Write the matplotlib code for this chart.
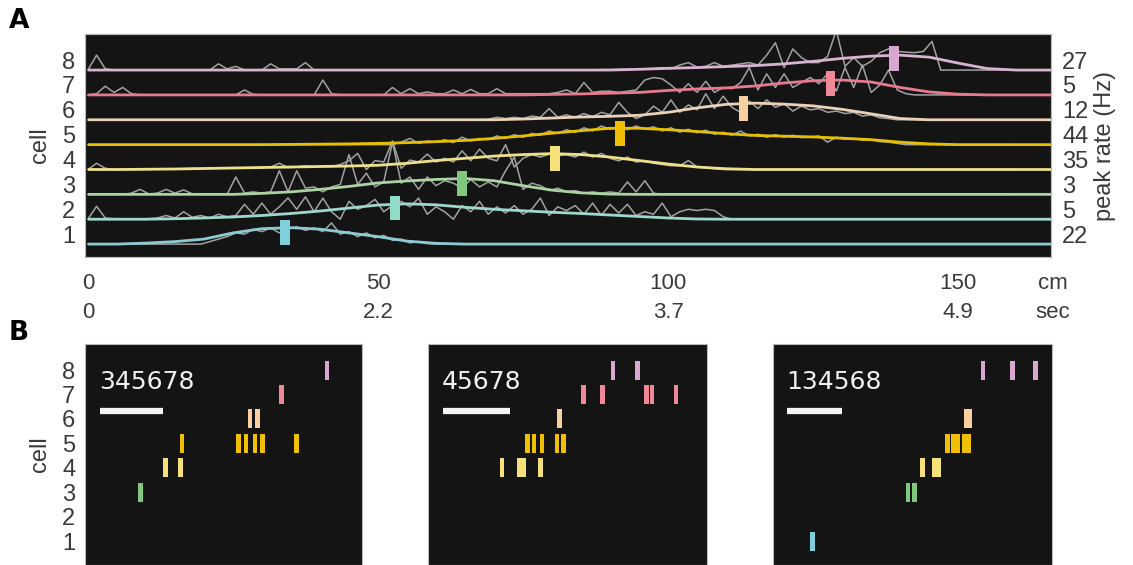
import numpy as np
import matplotlib
matplotlib.use("Agg")
import matplotlib.pyplot as plt
from matplotlib.transforms import blended_transform_factory

# ---------------- data: panel A ----------------
cells = [1, 2, 3, 4, 5, 6, 7, 8]
peak_rate = [22, 5, 3, 35, 44, 12, 5, 27]
cell_colors = ['#8ccbd3', '#9ed8cc', '#a9d3a0', '#eee08a',
               '#e6c000', '#ead2b8', '#e8798f', '#d9b3cf']
peak_colors = ['#7fd0dc', '#8fdcc8', '#80c880', '#f5e07a',
               '#f0c000', '#f8d0a0', '#f08898', '#d8a8d0']

# smoothed firing fields (fraction of row height), sampled every 5 cm
smooth_step = 5.0
smooth_1 = [0, 0, 0.04, 0.1, 0.2, 0.45, 0.62, 0.66, 0.6, 0.45, 0.3, 0.12, 0.03]
smooth_2 = [0, 0, 0, 0.02, 0.05, 0.09, 0.15, 0.23, 0.33, 0.45, 0.57, 0.62, 0.58,
            0.48, 0.4, 0.34, 0.28, 0.23, 0.17, 0.11, 0.05, 0.01]
smooth_3 = [0] * 6 + [0.04, 0.1, 0.2, 0.32, 0.46, 0.54, 0.6, 0.64, 0.55, 0.35,
                      0.17, 0.06, 0.01]
smooth_4 = [0, 0, 0.01, 0.02, 0.04, 0.06, 0.08, 0.1, 0.12, 0.14, 0.17, 0.25, 0.36,
            0.45, 0.54, 0.6, 0.64, 0.6, 0.5, 0.36, 0.22, 0.1, 0.03]
smooth_5 = [0] * 7 + [0.01, 0.02, 0.03, 0.05, 0.08, 0.12, 0.17, 0.25, 0.35, 0.46,
                      0.56, 0.66, 0.66, 0.6, 0.53, 0.44, 0.37, 0.34, 0.31, 0.26,
                      0.2, 0.1, 0.03]
smooth_6 = [0] * 15 + [0.03, 0.07, 0.11, 0.14, 0.18, 0.3, 0.48, 0.62, 0.67, 0.63,
                       0.56, 0.42, 0.24, 0.05]
smooth_7 = [0] * 16 + [0.02, 0.04, 0.07, 0.1, 0.18, 0.24, 0.28, 0.36, 0.48, 0.57,
                       0.6, 0.52, 0.3, 0.12, 0.03]
smooth_8 = [0] * 19 + [0.03, 0.07, 0.1, 0.14, 0.18, 0.25, 0.35, 0.47, 0.56, 0.6,
                       0.52, 0.28, 0.06]

# raw rate traces (gray), sampled every 1.5 cm
gray_step = 1.5
gray_1 = [0] * 14 + [0.1, 0.2, 0.3, 0.45, 0.4, 0.6, 0.5, 0.65, 0.45, 0.6,
                     0.7, 0.55, 0.65, 0.5, 0.85, 0.4, 0.5, 0.3, 0.45, 0.25,
                     0.35, 0.15, 0.2, 0.05, 0.1, 0.02]
gray_2 = [0, 0.52, 0.05, 0.02, 0.02, 0.02, 0.02, 0.02, 0.05, 0.15,
          0.05, 0.3, 0.08, 0.15, 0.05, 0.2, 0.1, 0.15, 0.6, 0.2,
          0.65, 0.2, 0.5, 0.86, 0.4, 0.9, 0.3, 0.85, 0.3, 0.0,
          0.72, 0.4, 0.55, 0.8, 0.3, 0.55, 0.72, 0.5, 0.85, 0.2,
          0.5, 0.3, 0.0, 0.55, 0.3, 0.72, 0.2, 0.5, 0.25, 0.55,
          0.2, 0.4, 0.85, 0.15, 0.5, 0.35, 0.55, 0.2, 0.65, 0.15,
          0.6, 0.25, 0.6, 0.15, 0.3, 0.2, 0.65, 0.1, 0.3, 0.4,
          0.35, 0.4, 0.35, 0.1, 0.0]
gray_3 = [0, 0, 0, 0, 0, 0.05, 0.2, 0.02, 0.05, 0.2,
          0.05, 0.18, 0.02, 0, 0, 0, 0, 0.7, 0.05, 0.1,
          0.05, 0.1, 0.95, 0.1, 0.95, 0.25, 0.3, 0.1, 0.3, 0.4,
          1.6, 0.4, 0.85, 0.3, 0.5, 2.1, 0.45, 0.7, 0.2, 0.7,
          0.35, 0.55, 0.45, 0.25, 0.6, 0.3, 0.5, 0.3, 0.95, 1.5,
          0.2, 0.45, 0.35, 0.15, 0.25, 0.1, 0.15, 0.05, 0.1, 0.05,
          0.1, 0.05, 0.5, 0.1, 0.55, 0.05, 0]
gray_4 = [0, 0.25, 0.05, 0, 0, 0, 0, 0, 0.02, 0.02,
          0.03, 0.03, 0.04, 0.04, 0.05, 0.05, 0.06, 0.06, 0.07, 0.07,
          0.08, 0.1, 0.25, 0.08, 0.1, 0.15, 0.1, 0.15, 0.12, 0.2,
          0.35, 0.65, 0.0, 0.36, 0.3, 1.15, 0.05, 0.38, 0.3, 0.62,
          0.3, 0.45, 0.3, 0.75, 0.35, 0.82, 0.45, 0.35, 1.0, 0.1,
          0.45, 0.6, 0.5, 0.62, 0.55, 0.6, 0.5, 0.7, 0.5, 0.65,
          0.45, 0.35, 0.5, 0.3, 0.35, 0.25, 0.2, 0.15, 0.15, 0.36,
          0.1, 0.08, 0.03]
gray_5 = [0] * 36 + [0.1, 0.25, 0.05, 0.15, 0.1, 0.2, 0.08, 0.3, 0.15, 0.25,
                     0.2, 0.35, 0.25, 0.4, 0.3, 0.45, 0.38, 0.55, 0.45, 0.6,
                     0.5, 0.68, 0.55, 0.75, 0.62, 0.7, 0.6, 0.75, 0.62, 0.72,
                     0.55, 0.68, 0.5, 0.62, 0.48, 0.58, 0.42, 0.5, 0.38, 0.55,
                     0.35, 0.42, 0.3, 0.4, 0.3, 0.38, 0.28, 0.3, 0.35, 0.1,
                     0.3, 0.22, 0.25, 0.18, 0.2, 0.12, 0.1, 0.05, 0]
gray_6 = [0] * 46 + [0.02, 0.1, 0.05, 0.1, 0.05, 0.15, 0.1, 0.45, 0.1, 0.2,
                     0.1, 0.25, 0.12, 0.3, 0.2, 0.7, 0.3, 0.05, 0.2, 0.55,
                     0.3, 0.8, 0.3, 0.6, 0.4, 1.05, 0.45, 0.95, 0.5, 0.3,
                     0.75, 0.45, 0.8, 0.5, 0.65, 0.35, 0.55, 0.4, 0.45, 0.3,
                     0.35, 0.25, 0.3, 0.15, 0.2, 0.08, 0.05, 0]
gray_7 = [0, 0.05, 0.35, 0.1, 0.3, 0.05, 0, 0, 0, 0,
          0, 0, 0, 0, 0, 0, 0, 0, 0.2, 0.02,
          0, 0, 0, 0, 0, 0, 0, 0.6, 0.05, 0,
          0, 0, 0, 0, 0, 0.3, 0.05, 0.25, 0.05, 0.12,
          0.05, 0.05, 0.2, 0.05, 0.22, 0.05, 0.05, 0.25, 0.05, 0.05,
          0.05, 0.05, 0.05, 0.05, 0.1, 0.2, 0.05, 0.5, 0.1, 0.15,
          0.15, 0.1, 0.15, 0.2, 0.6, 0.7, 0.65, 0.4, 0.1, 0.45,
          0.1, 0.55, 0.1, 0.3, 0.25, 0.5, 1.1, 0.2, 0.85, 0.3,
          0.85, 0.3, 0.5, 0.7, 0.45, 0.85, 0.15, 1.1, 0.3, 1.2,
          0.1, 0.4, 1.0, 0.2, 0.05]
gray_8 = [0, 0.6, 0.05, 0, 0, 0, 0, 0, 0, 0,
          0, 0, 0, 0, 0, 0.25, 0.05, 0.15, 0, 0,
          0, 0.25, 0.05, 0.05, 0.05, 0.3, 0, 0, 0, 0] + [0] * 29 + [
          0.02, 0.02, 0.03, 0.03, 0.04, 0.05, 0.06, 0.1, 0.05, 0.2, 0.3,
          0.12, 0.15, 0.3, 0.15, 0.2, 0.25, 0.3, 0.2, 0.6, 1.1,
          0.1, 0.85, 0.5, 0.3, 0.3, 0.55, 1.6, 0.15, 0.5, 0.15,
          0.35, 0.7, 0.85, 0.75, 0.72, 0.7, 0.75, 1.15, 0.0]

peak_pos_cm = [34, 53, 64.5, 80.5, 91.7, 113, 128, 139]

tick_cm = [0, 50, 100, 150]
tick_sec = ['0', '2.2', '3.7', '4.9']

# ---------------- data: panel B ----------------
seq_names = ['345678', '45678', '134568']
seq_duration_ms = [220, 208, 254]
scale_bar_ms = 50
spikes_b1 = {8: [192], 7: [156], 6: [131, 137],
             5: [77, 122, 128, 135, 141, 168], 4: [64, 76], 3: [44]}
spikes_b2 = {8: [138, 156], 7: [116, 130, 163, 167, 185], 6: [98],
             5: [74, 79, 85, 96, 101], 4: [55, 68, 71, 84]}
spikes_b3 = {8: [191, 218, 239], 6: [176, 179],
             5: [159, 164, 168, 174, 178], 4: [136, 147, 151],
             3: [123, 129], 1: [36]}
spikes_b = [spikes_b1, spikes_b2, spikes_b3]


def pad(values, n):
    return np.array(list(values) + [0] * (n - len(values)), dtype=float)


plt.rcParams['font.family'] = ['Liberation Sans', 'DejaVu Sans']
text_col = '#3a3a3a'
bg = '#141414'
frame_col = '#b8b8b8'

fig = plt.figure(figsize=(11.33, 5.65), dpi=100)

# ================= panel A =================
axA = fig.add_axes([0.0750, 0.5451, 0.8526, 0.3947])
axA.set_facecolor(bg)

n_smooth = 35
x_smooth = np.arange(n_smooth) * smooth_step
n_gray = 107
x_gray = np.arange(n_gray) * gray_step
smooth_all = [smooth_1, smooth_2, smooth_3, smooth_4,
              smooth_5, smooth_6, smooth_7, smooth_8]
gray_all = [gray_1, gray_2, gray_3, gray_4, gray_5, gray_6, gray_7, gray_8]

for k, sm, gr, col in zip(cells, smooth_all, gray_all, cell_colors):
    axA.plot(x_gray, k + pad(gr, n_gray), color='#a2a2a2', lw=1.1, zorder=2)
    axA.plot(x_smooth, k + pad(sm, n_smooth), color=col, lw=2.0, zorder=3,
             solid_capstyle='butt')

axA.bar(peak_pos_cm, 1.0, bottom=np.array(cells) - 0.05, width=1.7,
        color=peak_colors, zorder=4)

axA.set_xlim(-0.5, 166)
axA.set_ylim(0.48, 9.45)
axA.set_xticks([])
axA.set_yticks(np.array(cells) + 0.4)
axA.set_yticklabels([str(c) for c in cells], fontsize=17, color=text_col)
axA.tick_params(axis='y', length=0, pad=7)
axA.set_ylabel('cell', fontsize=17, color=text_col, labelpad=8)

axA2 = axA.twinx()
axA2.set_ylim(axA.get_ylim())
axA2.set_yticks(np.array(cells) + 0.4)
axA2.set_yticklabels([str(r) for r in peak_rate], fontsize=17, color=text_col)
axA2.tick_params(axis='y', length=0, pad=8)
axA2.set_ylabel('peak rate (Hz)', fontsize=17, color=text_col, labelpad=4)

for ax in (axA, axA2):
    for s in ax.spines.values():
        s.set_color(frame_col)
        s.set_linewidth(0.8)

trans = blended_transform_factory(axA.transData, axA.transAxes)
for xc, ts in zip(tick_cm, tick_sec):
    axA.text(xc, -0.117, str(xc), transform=trans, ha='center', va='center',
             fontsize=16, color=text_col)
    axA.text(xc, -0.251, ts, transform=trans, ha='center', va='center',
             fontsize=16, color=text_col)
axA.text(1.002, -0.117, 'cm', transform=axA.transAxes, ha='center',
         va='center', fontsize=16, color=text_col)
axA.text(1.002, -0.251, 'sec', transform=axA.transAxes, ha='center',
         va='center', fontsize=16, color=text_col)

# ================= panel B =================
b_lefts = [0.0750, 0.3778, 0.6823]
b_widths = [0.2445, 0.2462, 0.2462]
bar_start_ms = [12, 11, 13]
cell_to_color = dict(zip(cells, peak_colors))

for i, (name, dur, spk) in enumerate(zip(seq_names, seq_duration_ms, spikes_b)):
    ax = fig.add_axes([b_lefts[i], 0.0, b_widths[i], 0.3912])
    ax.set_facecolor(bg)
    ax.set_xlim(0, dur)
    ax.set_ylim(0.02, 9.07)
    for c, times in spk.items():
        ax.bar(times, 0.78, bottom=c - 0.39, width=dur / 62.0,
               color=cell_to_color[c], zorder=3)
    x0 = bar_start_ms[i]
    ax.plot([x0, x0 + scale_bar_ms], [6.32, 6.32], color='#f4f4f4', lw=4.5,
            solid_capstyle='butt', zorder=3)
    ax.text(x0 - 1, 7.5, name, color='#f0f0f0', fontsize=18,
            family='DejaVu Sans', ha='left', va='center')
    ax.set_xticks([])
    if i == 0:
        ax.set_yticks(cells)
        ax.set_yticklabels([str(c) for c in cells], fontsize=17, color=text_col)
        ax.tick_params(axis='y', length=0, pad=7)
        ax.set_ylabel('cell', fontsize=17, color=text_col, labelpad=8)
    else:
        ax.set_yticks([])
    for s in ax.spines.values():
        s.set_color(frame_col)
        s.set_linewidth(0.8)

fig.text(0.0168, 0.962, 'A', fontsize=19, fontweight='bold',
         family='DejaVu Sans', ha='center', va='center', color='black')
fig.text(0.0168, 0.410, 'B', fontsize=19, fontweight='bold',
         family='DejaVu Sans', ha='center', va='center', color='black')

fig.savefig('out.png', dpi=100, facecolor='white')
